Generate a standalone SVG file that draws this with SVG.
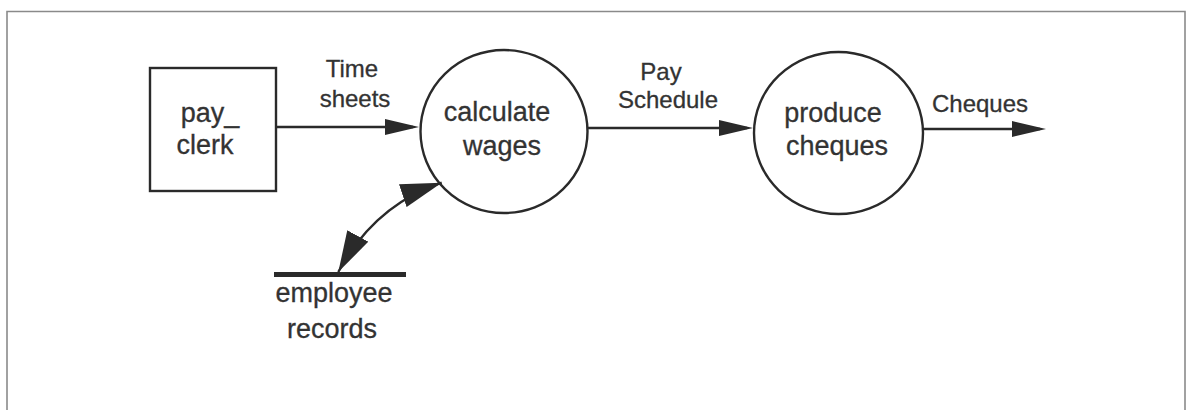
<svg xmlns="http://www.w3.org/2000/svg" width="1187" height="410" viewBox="0 0 1187 410">
  <style>
    .frame { fill: none; stroke: #8a8a8a; stroke-width: 1.6; }
    .shape { fill: none; stroke: #2a2a2a; stroke-width: 2.4; }
    .flow { fill: none; stroke: #2a2a2a; stroke-width: 2.4; }
    .store { stroke: #2a2a2a; stroke-width: 5; }
    .node-text { font-family: "Liberation Sans", Arial, sans-serif; font-size: 27px; fill: #333; stroke: #333; stroke-width: 0.3; text-anchor: middle; }
    .label { font-family: "Liberation Sans", Arial, sans-serif; font-size: 24px; fill: #333; stroke: #333; stroke-width: 0.3; text-anchor: middle; }
  </style>
  <defs>
    <!-- tip sits 6px past the line end so the stroke stays hidden under the head -->
    <marker id="head" viewBox="0 0 34 16" refX="28" refY="8" markerWidth="34" markerHeight="16" markerUnits="userSpaceOnUse" orient="auto">
      <path d="M0,0 L34,8 L0,16 Z" fill="#2a2a2a"/>
    </marker>
    <marker id="head-big" viewBox="0 0 41 24" refX="41" refY="12" markerWidth="41" markerHeight="24" markerUnits="userSpaceOnUse" orient="auto-start-reverse">
      <path d="M0,0 L41,12 L0,24 Z" fill="#2a2a2a"/>
    </marker>
  </defs>

  <rect width="1187" height="410" fill="#ffffff"/>

  <!-- page frame, open at the bottom -->
  <path class="frame" d="M7,410 V11.5 H1185 V410"/>

  <g id="connectors">
    <line class="flow" x1="276" y1="127" x2="413" y2="127" marker-end="url(#head)"/>
    <line class="flow" x1="587" y1="128" x2="747" y2="128" marker-end="url(#head)"/>
    <line class="flow" x1="923" y1="129" x2="1040" y2="129" marker-end="url(#head)"/>
    <path class="flow" d="M338.3,272 Q374.6,205.1 441.7,182.7" marker-start="url(#head-big)" marker-end="url(#head-big)"/>
  </g>
  <g id="flow-labels">
    <text class="label" x="352" y="77">Time</text>
    <text class="label" x="355" y="107">sheets</text>
    <text class="label" x="661" y="80">Pay</text>
    <text class="label" x="668" y="108">Schedule</text>
    <text class="label" x="980" y="112">Cheques</text>
  </g>

  <g id="pay-clerk">
    <rect class="shape" x="150" y="68" width="126" height="123"/>
    <text class="node-text" x="210" y="122">pay_</text>
    <text class="node-text" x="205" y="154">clerk</text>
  </g>

  <g id="calculate-wages">
    <ellipse class="shape" cx="504" cy="131.5" rx="83.5" ry="81.5"/>
    <text class="node-text" x="497" y="121">calculate</text>
    <text class="node-text" x="502" y="155">wages</text>
  </g>

  <g id="produce-cheques">
    <ellipse class="shape" cx="838.5" cy="133" rx="84.5" ry="81"/>
    <text class="node-text" x="833" y="122">produce</text>
    <text class="node-text" x="837" y="155">cheques</text>
  </g>

  <g id="employee-records">
    <line class="store" x1="274" y1="274.5" x2="406" y2="274.5"/>
    <text class="node-text" x="334" y="302">employee</text>
    <text class="node-text" x="332" y="338">records</text>
  </g>
</svg>
